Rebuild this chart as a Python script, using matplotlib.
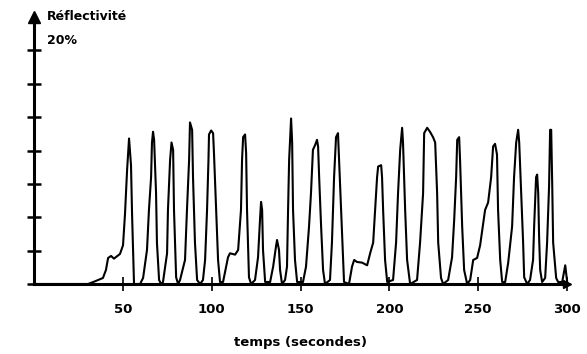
import matplotlib
matplotlib.use("Agg")
import matplotlib.pyplot as plt

# Reflectivity trace over time (seconds, percent)
time_s = [
    0, 30.4, 34.3, 38.8, 40.5, 41.7, 43.4, 45.0, 48.4, 50.1, 51.2, 52.4, 53.5, 54.6, 55.2, 56.3,
    59.7, 61.4, 63.6, 64.7, 65.9, 66.4, 67.0, 67.6, 68.7, 69.2, 70.4, 71.5,
    72.6, 74.9, 75.4, 76.6, 77.4, 78.3, 78.8, 80.0, 81.1,
    82.2, 85.0, 86.1, 87.3, 87.8, 89.0, 89.5, 90.6, 91.8, 93.5,
    95.1, 96.3, 97.4, 98.2, 98.5, 99.7, 100.8, 101.3, 102.5, 103.6, 104.7,
    106.4, 109.2, 110.3, 113.2, 114.9, 116.5, 117.1, 117.7, 118.8, 119.4, 119.9, 121.0, 122.2,
    124.4, 126.1, 127.2, 127.8, 128.4, 128.9, 130.1,
    132.9, 134.6, 136.2, 136.8, 137.9, 138.5, 139.6,
    141.3, 142.4, 143.0, 143.6, 144.7, 145.3, 145.8, 146.9, 148.1,
    151.4, 153.1, 154.8, 155.9, 157.0, 158.2, 159.3, 159.9, 160.5, 161.6, 162.7, 163.8,
    166.6, 167.7, 168.9, 170.0, 171.1, 171.7, 172.8, 174.0, 174.5,
    177.3, 179.0, 180.2, 181.8, 184.7, 187.5, 189.2, 190.9, 192.0, 193.1, 193.7, 195.4, 195.9,
    196.5, 197.6, 198.8,
    202.1, 203.8, 204.9, 206.1, 207.2, 207.7, 208.9, 210.0, 211.7,
    215.6, 217.3, 219.0, 219.6, 221.3, 222.9, 224.6, 225.8, 226.9, 227.5, 229.1, 230.3,
    233.1, 235.3, 236.5, 237.6, 238.2, 239.3, 239.8, 241.0, 242.1, 243.8,
    245.5, 247.2, 249.4, 251.1, 253.9, 255.6, 257.3, 258.4, 259.5, 260.6, 261.2, 262.4, 263.5,
    265.2, 266.9, 269.1, 270.2, 271.4, 272.5, 273.1, 274.2, 275.3, 275.9, 277.6,
    279.2, 280.9, 281.5, 282.6, 283.2, 283.8, 284.3, 284.9, 286.0,
    287.7, 288.8, 289.9, 290.5, 291.1, 291.7, 292.2, 293.9, 295.0, 297.3, 299.0, 300.1,
]
reflectivity = [
    0, 0, 0.2, 0.45, 1.05, 1.95, 2.1, 1.9, 2.25, 2.9, 5.2, 8.55, 10.9, 8.9, 5.2, 0,
    0, 0.45, 2.55, 5.55, 8.0, 10.6, 11.4, 10.8, 6.8, 3.1, 0.3, 0,
    0.15, 2.3, 5.55, 9.3, 10.6, 10.05, 5.55, 0.5, 0,
    0.3, 1.8, 5.55, 9.3, 12.1, 11.55, 8.0, 3.1, 0.3, 0,
    0.3, 1.8, 5.55, 9.3, 11.2, 11.5, 11.3, 9.8, 5.55, 1.8, 0.15,
    0.15, 2.0, 2.3, 2.2, 2.55, 5.55, 9.3, 11.0, 11.2, 9.8, 5.55, 0.5, 0,
    0.3, 2.0, 4.8, 6.15, 5.55, 2.55, 0.15,
    0.15, 1.3, 2.8, 3.3, 2.55, 1.05, 0,
    0.3, 1.3, 5.55, 9.3, 12.4, 10.6, 5.55, 1.8, 0.15,
    0.15, 1.3, 4.3, 6.8, 10.05, 10.4, 10.8, 10.3, 8.0, 4.3, 1.05, 0,
    0.3, 3.1, 8.0, 11.0, 11.3, 9.3, 5.55, 1.8, 0.15,
    0, 1.3, 1.8, 1.65, 1.6, 1.4, 2.3, 3.1, 5.55, 8.0, 8.8, 8.9, 8.0,
    5.55, 1.8, 0.15,
    0.3, 3.1, 6.8, 10.05, 11.7, 10.6, 5.55, 1.8, 0,
    0.3, 3.1, 6.8, 11.3, 11.7, 11.4, 11.0, 10.6, 6.8, 3.1, 0.45, 0,
    0.3, 2.0, 4.8, 8.0, 10.8, 11.0, 9.3, 4.3, 1.05, 0,
    0.3, 1.8, 1.95, 2.9, 5.55, 6.1, 8.0, 10.3, 10.5, 9.7, 5.55, 1.8, 0.15,
    0.15, 1.6, 4.3, 8.0, 10.6, 11.55, 10.6, 6.8, 3.1, 0.5, 0,
    0.3, 1.8, 4.3, 8.0, 8.2, 6.8, 3.5, 1.05, 0.15,
    0.45, 3.1, 7.3, 11.55, 11.55, 7.3, 3.1, 0.45, 0.15, 0.15, 1.4, 0.15,
]

x_ticks = [50, 100, 150, 200, 250, 300]
x_tick_labels = ["50", "100", "150", "200", "250", "300"]
y_ticks = [0, 2.5, 5, 7.5, 10, 12.5, 15, 17.5]
y_label = "Réflectivité"
y_max_label = "20%"
x_label = "temps (secondes)"

fig = plt.figure(figsize=(5.87, 3.54), dpi=100)
ax = fig.add_axes([34 / 587, 70 / 354, 533 / 587, 267 / 354])

ax.plot(time_s, reflectivity, color="black", linewidth=1.5, clip_on=False)

ax.set_xlim(0, 300)
ax.set_ylim(0, 20)

for side in ("top", "right"):
    ax.spines[side].set_visible(False)
for side in ("left", "bottom"):
    ax.spines[side].set_linewidth(2.2)

# arrowheads at the axis ends
ax.plot(0, 20, marker="^", markersize=8, color="black", clip_on=False)
ax.plot(300, 0, marker=">", markersize=6, color="black", clip_on=False)

ax.set_xticks(x_ticks)
ax.set_xticklabels(x_tick_labels, fontsize=9.5, fontweight="bold")
ax.set_yticks(y_ticks)
ax.set_yticklabels([])
ax.tick_params(axis="y", direction="inout", length=10, width=1.8)
ax.tick_params(axis="x", direction="inout", length=10, width=1.2, pad=9)

ax.set_xlabel(x_label, fontsize=9.5, fontweight="bold", labelpad=14)

fig.text(47 / 587, 1 - 17 / 354, y_label, fontsize=9, fontweight="bold", va="center", ha="left")
fig.text(47 / 587, 1 - 40 / 354, y_max_label, fontsize=9, fontweight="bold", va="center", ha="left")

fig.savefig("out.png", dpi=100, facecolor="white")
